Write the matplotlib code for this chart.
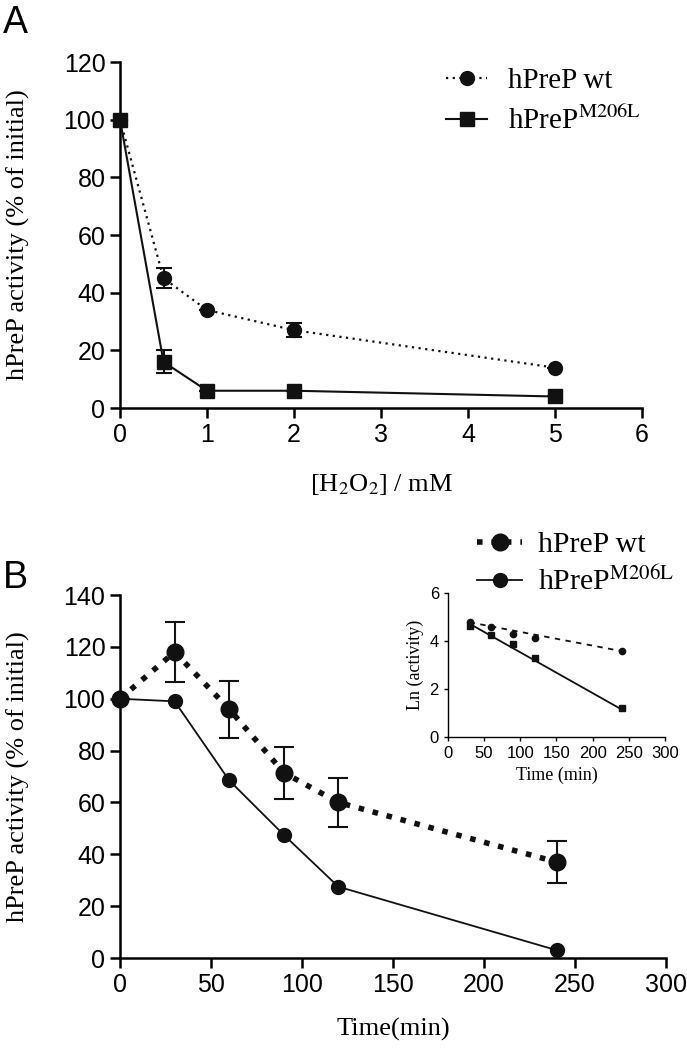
import matplotlib
matplotlib.use('Agg')
import matplotlib.pyplot as plt

plt.rcParams['font.family'] = 'Liberation Sans'
plt.rcParams['mathtext.fontset'] = 'stix'

# Panel A: activity vs H2O2
h2o2 = [0, 0.5, 1, 2, 5]
a_wt = [100, 45, 34, 27, 14]
a_wt_err = [0, 3.5, 0, 2.5, 0]
a_mut = [100, 16, 6, 6, 4]
a_mut_err = [0, 4, 0, 0, 0]

# Panel B: activity vs time
time = [0, 30, 60, 90, 120, 240]
b_wt = [100, 118, 96, 71.5, 60, 37]
b_wt_err = [0, 11.5, 11, 10, 9.5, 8]
b_mut = [100, 99, 68.5, 47.5, 27.5, 3]

# Inset: ln(activity)
in_time = [30, 60, 90, 120, 240]
ln_wt = [4.79, 4.57, 4.29, 4.11, 3.6]
ln_mut = [4.63, 4.24, 3.86, 3.29, 1.19]
fit_x = [30, 240]
fit_wt = [4.78, 3.58]
fit_mut = [4.72, 1.15]

serif = 'Liberation Serif'
black = '#111111'
mut_label = r'hPreP$^{\mathrm{M206L}}$'

fig = plt.figure(figsize=(6.87, 10.5), dpi=100)


def style(ax, lw=1.8, ticksize=18, ticklen=7):
    for s in ['top', 'right']:
        ax.spines[s].set_visible(False)
    for s in ['left', 'bottom']:
        ax.spines[s].set_linewidth(lw)
    ax.tick_params(width=lw, length=ticklen, labelsize=ticksize, direction='out')


# ---- A ----
ax1 = fig.add_axes([0.1747, 0.6114, 0.760, 0.3295])
ax1.errorbar(h2o2, a_wt, yerr=a_wt_err, fmt='none', ecolor=black,
             capsize=6, elinewidth=1.5, capthick=1.5)
ax1.errorbar(h2o2, a_mut, yerr=a_mut_err, fmt='none', ecolor=black,
             capsize=6, elinewidth=1.5, capthick=1.5)
ax1.plot(h2o2, a_wt, 'o', color=black, ls=(0, (1, 2)), lw=1.6, ms=10,
         clip_on=False, label='hPreP wt', zorder=3)
ax1.plot(h2o2, a_mut, 's', color=black, ls='-', lw=1.5, ms=10,
         clip_on=False, label=mut_label, zorder=3)
ax1.set_xlim(0, 6)
ax1.set_ylim(0, 120)
ax1.set_xticks(range(0, 7))
ax1.set_yticks(range(0, 121, 20))
style(ax1)
ax1.set_ylabel('hPreP activity (% of initial)', family=serif, fontsize=19, labelpad=24)
ax1.set_xlabel(r'[H$_2$O$_2$] / mM', family=serif, fontsize=19, labelpad=18)
ax1.legend(loc='upper left', bbox_to_anchor=(0.575, 1.06), frameon=False,
           prop={'family': serif, 'size': 21}, handlelength=1.4,
           handletextpad=0.7, labelspacing=0.43)
fig.text(0.004, 0.995, 'A', fontsize=27, va='top', ha='left')

# ---- B ----
ax2 = fig.add_axes([0.1747, 0.0876, 0.7947, 0.3457])
ax2.errorbar(time, b_wt, yerr=b_wt_err, fmt='none', ecolor=black,
             capsize=7, elinewidth=1.5, capthick=1.5)
ax2.plot(time, b_wt, 'o', color=black, ls=(0, (1, 1.6)), lw=4, ms=12,
         clip_on=False, label='hPreP wt', zorder=3)
ax2.plot(time, b_mut, 'o-', color=black, lw=1.3, ms=10, clip_on=False,
         label=mut_label, zorder=3)
ax2.set_xlim(0, 300)
ax2.set_ylim(0, 140)
ax2.set_xticks(range(0, 301, 50))
ax2.set_yticks(range(0, 141, 20))
style(ax2)
ax2.set_ylabel('hPreP activity (% of initial)', family=serif, fontsize=19, labelpad=24)
ax2.set_xlabel('Time(min)', family=serif, fontsize=19, labelpad=15)
ax2.legend(loc='upper left', bbox_to_anchor=(0.605, 1.25), frameon=False,
           prop={'family': serif, 'size': 21.5}, handlelength=1.5,
           handletextpad=0.55, labelspacing=0.28)
fig.text(0.004, 0.4667, 'B', fontsize=27, va='top', ha='left')

# ---- inset ----
ax3 = fig.add_axes([0.652, 0.2981, 0.3159, 0.1371])
ax3.plot(fit_x, fit_wt, color=black, ls=(0, (3, 3)), lw=1.3)
ax3.plot(fit_x, fit_mut, color=black, ls='-', lw=1.3)
ax3.plot(in_time, ln_wt, 'o', color=black, ms=4.5)
ax3.plot(in_time, ln_mut, 's', color=black, ms=4.5)
ax3.set_xlim(0, 300)
ax3.set_ylim(0, 6)
ax3.set_xticks(range(0, 301, 50))
ax3.set_yticks([0, 2, 4, 6])
style(ax3, lw=1.0, ticksize=12, ticklen=3)
ax3.set_ylabel('Ln (activity)', family=serif, fontsize=13)
ax3.set_xlabel('Time (min)', family=serif, fontsize=13)

fig.savefig('out.png', dpi=100)
